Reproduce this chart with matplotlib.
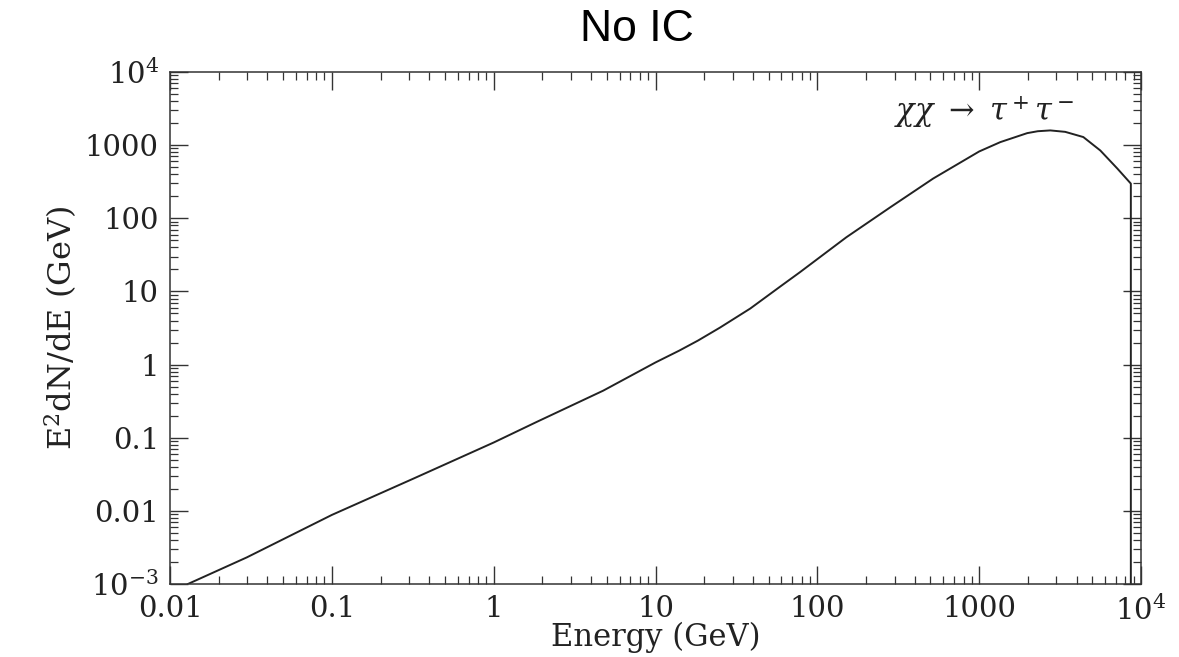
import matplotlib
matplotlib.use("Agg")
import matplotlib.pyplot as plt
from matplotlib.ticker import FixedLocator, FixedFormatter, LogLocator, NullFormatter

# spectrum (GeV, E^2 dN/dE in GeV)
energy = [0.0129, 0.0298, 0.1, 0.318, 1.0, 1.85, 4.75, 10.0, 14.0, 18.3, 25.0,
          38.5, 60.0, 78.0, 151.0, 283.0, 520.0, 1000.0, 1350.0, 1980.0, 2300.0,
          2750.0, 3400.0, 4400.0, 5600.0, 7130.0, 8650.0, 8650.0]
flux = [0.001, 0.00231, 0.0088, 0.0275, 0.086, 0.165, 0.44, 1.07, 1.55, 2.13,
        3.2, 5.84, 12.0, 18.3, 55.0, 142.0, 350.0, 820.0, 1100.0, 1460.0, 1550.0,
        1590.0, 1520.0, 1290.0, 846.0, 480.0, 298.0, 0.001]

x_ticks = [0.01, 0.1, 1, 10, 100, 1000, 10000]
x_labels = ["0.01", "0.1", "1", "10", "100", "1000", r"$10^4$"]
y_ticks = [0.001, 0.01, 0.1, 1, 10, 100, 1000, 10000]
y_labels = [r"$10^{-3}$", "0.01", "0.1", "1", "10", "100", "1000", r"$10^4$"]

plt.rcParams["mathtext.fontset"] = "dejavuserif"
serif = "DejaVu Serif"

fig = plt.figure(figsize=(11.79, 6.57), dpi=100)
ax = fig.add_axes([0.1442, 0.1111, 0.8236, 0.7793])

ax.plot(energy, flux, color="#222222", lw=1.4)
ax.set_xscale("log")
ax.set_yscale("log")
ax.set_xlim(0.01, 10000)
ax.set_ylim(0.001, 10000)

ax.xaxis.set_major_locator(FixedLocator(x_ticks))
ax.xaxis.set_major_formatter(FixedFormatter(x_labels))
ax.yaxis.set_major_locator(FixedLocator(y_ticks))
ax.yaxis.set_major_formatter(FixedFormatter(y_labels))
ax.xaxis.set_minor_locator(LogLocator(base=10, subs=range(2, 10), numticks=20))
ax.yaxis.set_minor_locator(LogLocator(base=10, subs=range(2, 10), numticks=20))
ax.xaxis.set_minor_formatter(NullFormatter())
ax.yaxis.set_minor_formatter(NullFormatter())

ax.tick_params(which="both", direction="in", top=True, right=True, color="#333333")
ax.tick_params(which="major", length=13, width=1.0, labelsize=21, pad=8)
ax.tick_params(which="minor", length=6, width=0.9)
for lab in ax.get_xticklabels() + ax.get_yticklabels():
    lab.set_family(serif)
    lab.set_color("#222222")
for sp in ax.spines.values():
    sp.set_linewidth(1.1)
    sp.set_color("#333333")

ax.set_xlabel("Energy (GeV)", family=serif, fontsize=22, color="#222222", labelpad=-3)
ax.set_ylabel(r"E$^2$dN/dE (GeV)", family=serif, fontsize=23, color="#222222", labelpad=4)

ax.text(0.746, 0.922, r"$\chi\chi\ \rightarrow\ \tau^+\tau^-$", transform=ax.transAxes,
        fontsize=22, color="#222222", ha="left", va="center")

fig.text(0.54, 0.955, "No IC", family="Liberation Sans", fontsize=32,
         ha="center", va="center")

fig.savefig("out.png", dpi=100)
